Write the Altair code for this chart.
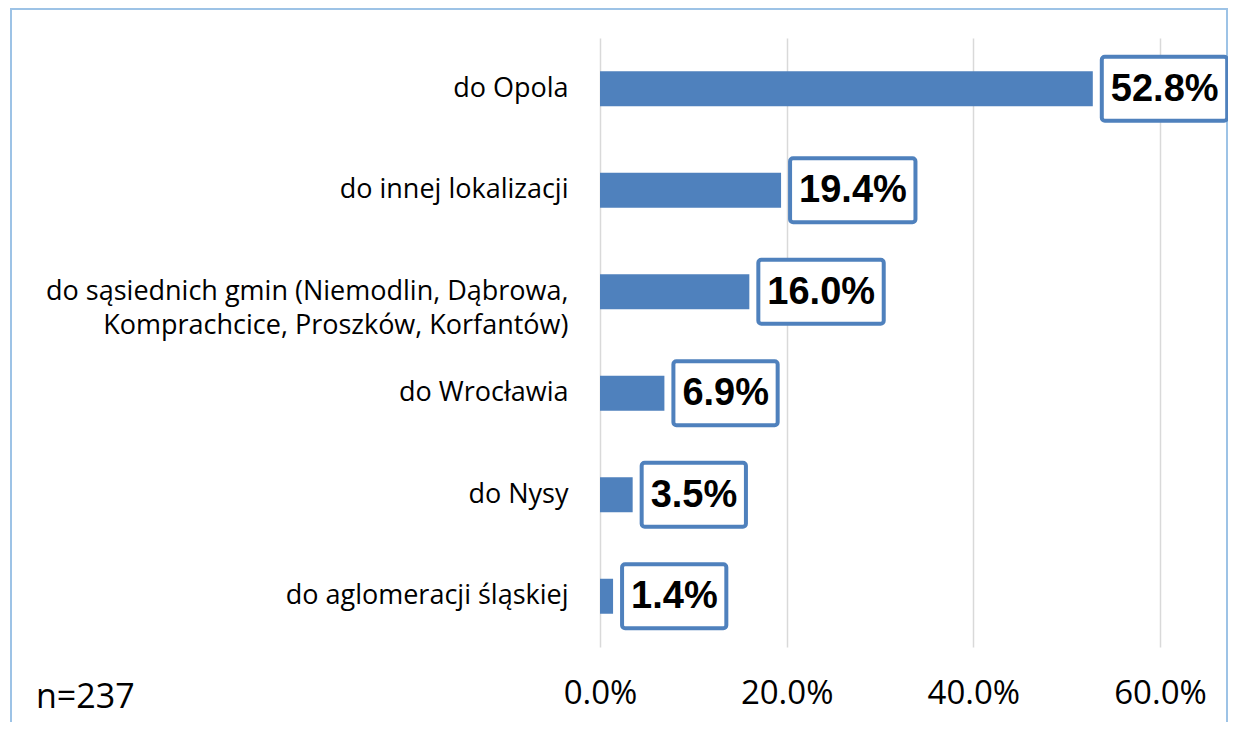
import altair as alt
import pandas as pd

categories = [
    "do Opola",
    "do innej lokalizacji",
    "do sąsiednich gmin (Niemodlin, Dąbrowa,|Komprachcice, Proszków, Korfantów)",
    "do Wrocławia",
    "do Nysy",
    "do aglomeracji śląskiej",
]
values = [0.528, 0.194, 0.160, 0.069, 0.035, 0.014]
x_ticks = [0.0, 0.2, 0.4, 0.6]
sample_note = ["n=237"]

df = pd.DataFrame({"cat": categories, "value": values})

BLUE = "#4F81BD"
LABEL_FONT = "Open Sans"

y_enc = alt.Y(
    "cat:N",
    sort=categories,
    scale=alt.Scale(paddingInner=0, paddingOuter=0),
    axis=alt.Axis(
        title=None,
        domain=False,
        ticks=False,
        grid=False,
        labelFont=LABEL_FONT,
        labelFontSize=27,
        labelColor="#000000",
        labelPadding=32,
        labelLimit=700,
        labelLineHeight=34,
        labelExpr="split(datum.label, '|')",
    ),
)

x_enc = alt.X(
    "value:Q",
    scale=alt.Scale(domain=[0, 0.6], nice=False),
    axis=alt.Axis(
        title=None,
        values=x_ticks,
        format=".1%",
        domain=False,
        ticks=False,
        grid=True,
        gridColor="#D9D9D9",
        gridWidth=1.5,
        labelFont=LABEL_FONT,
        labelFontSize=33,
        labelColor="#000000",
        labelPadding=30,
        labelFlush=False,
    ),
)

base = alt.Chart(df)

bars = base.mark_bar(size=35, color=BLUE).encode(x=x_enc, y=y_enc)

labeled = base.transform_calculate(
    label="format(datum.value, '.1%')",
)

boxes = labeled.mark_bar(
    size=64,
    fill="white",
    stroke=BLUE,
    strokeWidth=4,
    cornerRadius=3,
    xOffset=9,
    x2Offset=alt.expr("9 + 62 + 21.13 * (length(format(datum.value, '.1%')) - 2)"),
).encode(
    x=alt.X("value:Q"),
    x2=alt.X2("value:Q"),
    y=alt.Y("cat:N", sort=categories),
)

texts = labeled.mark_text(
    align="left",
    baseline="middle",
    dx=18,
    dy=1,
    font="Liberation Sans",
    fontWeight="bold",
    fontSize=38,
    color="#000000",
).encode(
    x=alt.X("value:Q"),
    y=alt.Y("cat:N", sort=categories),
    text="label:N",
)

note = alt.Chart(pd.DataFrame({"t": sample_note})).mark_text(
    align="left",
    baseline="alphabetic",
    font=LABEL_FONT,
    fontSize=34,
    color="#000000",
).encode(
    x=alt.value(-564),
    y=alt.value(670),
    text="t:N",
)

frame = alt.Chart(pd.DataFrame({"t": sample_note})).mark_rect(
    fill=None,
    stroke="#9DC3E6",
    strokeWidth=2,
).encode(
    x=alt.value(-589),
    x2=alt.value(627),
    y=alt.value(-29),
    y2=alt.value(720),
)

chart = (
    alt.layer(frame, bars, boxes, texts, note)
    .properties(
        width=560,
        height=609,
        autosize=alt.AutoSizeParams(type="none"),
        padding={"left": 592, "top": 30, "right": 68, "bottom": 75},
        background="white",
    )
    .configure_view(stroke=None)
)

chart.save("out.html", embed_options={"renderer": "svg", "actions": False})
